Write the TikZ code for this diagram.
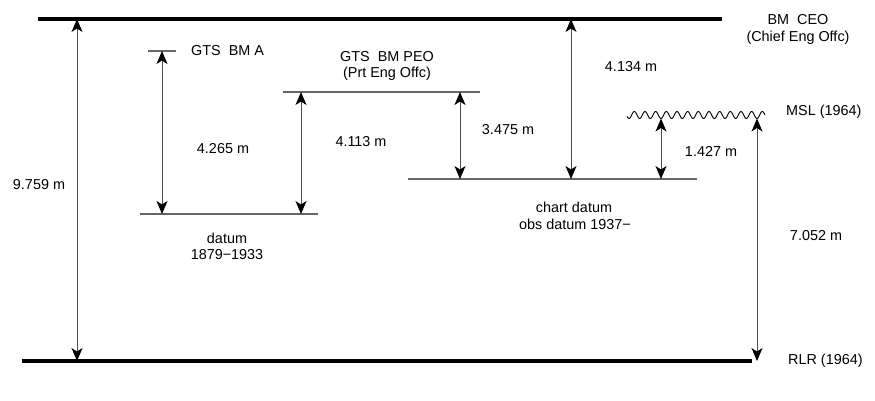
\documentclass[tikz,border=0pt]{standalone}
\usepackage{fontspec}
\setmainfont{Liberation Sans}
\usetikzlibrary{arrows.meta}
\begin{document}
\begin{tikzpicture}[x=1pt,y=-1pt,
  >={Stealth[length=13pt,width=11pt,inset=3.5pt]},
  lvl/.style={line width=3.2pt,black},
  thin/.style={line width=1.3pt,black!60},
  dim/.style={line width=1pt,black!70,<->,arrows={[black]}},
  lab/.style={font=\fontsize{14.4}{16}\selectfont,inner sep=0pt,align=center}]
\useasboundingbox (0,0) rectangle (875,400);
% levels
\coordinate (ceoL) at (38,19);  \coordinate (ceoR) at (722,19);
\coordinate (rlrL) at (22,361); \coordinate (rlrR) at (752,361);
\coordinate (bmaL) at (148,51); \coordinate (bmaR) at (176,51);
\coordinate (peoL) at (283,92); \coordinate (peoR) at (480,92);
\coordinate (datL) at (140,214); \coordinate (datR) at (318,214);
\coordinate (chL) at (408,179); \coordinate (chR) at (697,179);
\draw[lvl] (ceoL) -- (ceoR);
\draw[lvl] (rlrL) -- (rlrR);
\draw[thin] (bmaL) -- (bmaR);
\draw[thin] (peoL) -- (peoR);
\draw[thin] (datL) -- (datR);
\draw[thin] (chL) -- (chR);
% MSL wave
\draw[line width=0.9pt,black] plot[domain=0:138,samples=300,smooth] ({627+\x},{115+3.5*cos((\x-34)*33.75)});
% dimension arrows
\coordinate (a1t) at (77,19);  \coordinate (a1b) at (77,361);
\coordinate (a2t) at (162,51); \coordinate (a2b) at (162,214);
\coordinate (a3t) at (301,92); \coordinate (a3b) at (301,214);
\coordinate (a4t) at (460,92); \coordinate (a4b) at (460,179);
\coordinate (a5t) at (571,19); \coordinate (a5b) at (571,179);
\coordinate (a6t) at (661,118.5); \coordinate (a6b) at (661,179);
\coordinate (a7t) at (757,118.5); \coordinate (a7b) at (757,361);
\draw[dim] (a1t) -- (a1b);
\draw[dim] (a2t) -- (a2b);
\draw[dim] (a3t) -- (a3b);
\draw[dim] (a4t) -- (a4b);
\draw[dim] (a5t) -- (a5b);
\draw[dim] (a6t) -- (a6b);
\draw[dim] (a7t) -- (a7b);
% labels
\node[lab] (t1) at (39,185) {9.759 m};
\node[lab] (t2) at (223,149) {4.265 m};
\node[lab] (t3) at (361,142) {4.113 m};
\node[lab] (t4) at (508,130) {3.475 m};
\node[lab] (t5) at (631,67) {4.134 m};
\node[lab] (t6) at (711,151) {1.427 m};
\node[lab] (t7) at (816,236) {7.052 m};
\node[lab,anchor=west] (n1) at (191,51) {GTS\ \ BM A};
\node[lab] (n2) at (387,57) {GTS\ \ BM PEO};
\node[lab] (n2b) at (387,74) {(Prt Eng Offc)};
\node[lab] (n3) at (798,20) {BM\ \ CEO};
\node[lab] (n3b) at (798,38) {(Chief Eng Offc)};
\node[lab,anchor=west] (n4) at (786,112) {MSL (1964)};
\node[lab,anchor=west] (n5) at (788,361) {RLR (1964)};
\node[lab] (n6) at (227,238) {datum};
\node[lab] (n6b) at (227,255) {1879\textminus 1933};
\node[lab] (n7) at (574,207) {chart datum};
\node[lab] (n7b) at (575,224) {obs datum 1937\textminus};
\end{tikzpicture}
\end{document}
